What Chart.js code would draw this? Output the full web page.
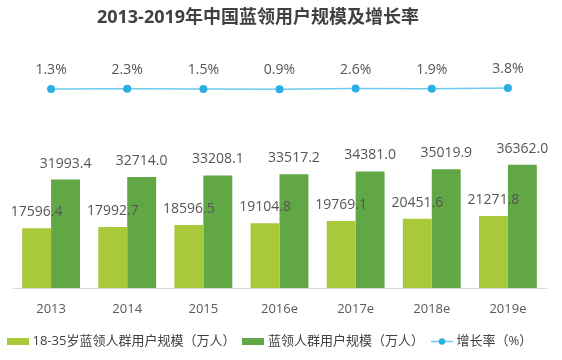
<!DOCTYPE html>
<html>
<head>
<meta charset="utf-8">
<script src="https://cdn.jsdelivr.net/npm/chart.js@4"></script>
<style>
  html,body{margin:0;padding:0;background:#fff;}
  #wrap{width:562px;height:360px;position:relative;}
</style>
</head>
<body>
<div id="wrap"><canvas id="c"></canvas></div>
<script>
// 数据
const years=['2013','2014','2015','2016e','2017e','2018e','2019e'];
const youngUsers=[17596.4,17992.7,18596.5,19104.8,19769.1,20451.6,21271.8]; // 18-35岁蓝领人群用户规模（万人）
const allUsers=[31993.4,32714.0,33208.1,33517.2,34381.0,35019.9,36362.0];   // 蓝领人群用户规模（万人）
const growth=[1.3,2.3,1.5,0.9,2.6,1.9,3.8];                                 // 增长率（%）

const TITLE='2013-2019年中国蓝领用户规模及增长率';
const FONT="'Open Sans','Noto Sans CJK SC',sans-serif";
const C_LIGHT='#a9c83a', C_DARK='#62a746', C_LINE='#6ccbee', C_DOT='#2aaee3';

// 图例标记（22px 宽的小图）
function boxMarker(col){
  const cv=document.createElement('canvas'); cv.width=22; cv.height=7;
  const g=cv.getContext('2d');
  g.fillStyle=col; g.fillRect(0,0,22,7);
  return cv;
}
function lineMarker(){
  const cv=document.createElement('canvas'); cv.width=22; cv.height=9;
  const g=cv.getContext('2d');
  g.strokeStyle=C_LINE; g.lineWidth=1.5;
  g.beginPath(); g.moveTo(0,4.5); g.lineTo(22,4.5); g.stroke();
  g.fillStyle=C_DOT; g.beginPath(); g.arc(11,4.5,3.2,0,Math.PI*2); g.fill();
  return cv;
}

const titlePlugin={
  id:'cnTitle',
  afterDraw(chart){
    const ctx=chart.ctx;
    ctx.save();
    ctx.font="bold 18px "+FONT; ctx.fillStyle='#404040';
    ctx.textAlign='center'; ctx.textBaseline='middle';
    ctx.fillText(TITLE,258,18);
    ctx.restore();
  }
};

const valuePlugin={
  id:'values',
  afterDatasetsDraw(chart){
    const ctx=chart.ctx;
    ctx.save();
    ctx.textAlign='center'; ctx.textBaseline='middle';
    ctx.font="14px "+FONT; ctx.fillStyle='#555';
    [0,1].forEach(di=>{
      const ds=chart.data.datasets[di];
      chart.getDatasetMeta(di).data.forEach((el,i)=>{
        ctx.fillText(ds.data[i].toFixed(1),el.x,el.y-16);
      });
    });
    chart.getDatasetMeta(2).data.forEach((el,i)=>{
      ctx.fillText(growth[i].toFixed(1)+'%',el.x,el.y-19);
    });
    ctx.restore();
  }
};

new Chart(document.getElementById('c'),{
  data:{
    labels:years,
    datasets:[
      {type:'bar',label:'18-35岁蓝领人群用户规模（万人）',data:youngUsers,backgroundColor:C_LIGHT,
       yAxisID:'y',categoryPercentage:0.76,barPercentage:1.0,order:2},
      {type:'bar',label:'蓝领人群用户规模（万人）',data:allUsers,backgroundColor:C_DARK,
       yAxisID:'y',categoryPercentage:0.76,barPercentage:1.0,order:2},
      {type:'line',label:'增长率（%）',data:growth,borderColor:C_LINE,borderWidth:1.5,
       pointRadius:4,pointBackgroundColor:C_DOT,pointBorderColor:C_DOT,pointBorderWidth:0,
       yAxisID:'y1',tension:0,order:1}
    ]
  },
  options:{
    responsive:true,maintainAspectRatio:false,animation:false,
    layout:{padding:{left:0,right:0,top:40,bottom:2}},
    plugins:{
      title:{display:false},
      tooltip:{enabled:false},
      legend:{
        position:'bottom',align:'start',
        labels:{
          usePointStyle:true,pointStyleWidth:16,boxHeight:7,padding:10,
          color:'#404040',font:{size:13,family:FONT},
          generateLabels(chart){
            return chart.data.datasets.map((ds,i)=>({
              text:ds.label,datasetIndex:i,hidden:false,lineWidth:0,
              fillStyle:i===2?C_DOT:ds.backgroundColor,strokeStyle:'rgba(0,0,0,0)',
              fontColor:'#404040',
              pointStyle:i===2?lineMarker():boxMarker(ds.backgroundColor)
            }));
          }
        }
      }
    },
    scales:{
      x:{
        grid:{display:false},
        border:{display:true,color:'#d9d9d9',width:1},
        ticks:{color:'#595959',font:{size:13,family:FONT},padding:5},
        afterFit(s){ s.height=37; }
      },
      y:{
        position:'left',min:0,max:73150,
        grid:{display:false},border:{display:false},ticks:{display:false},
        afterFit(s){ s.width=13; }
      },
      y1:{
        position:'right',min:-496,max:124,
        grid:{display:false},border:{display:false},ticks:{display:false},
        afterFit(s){ s.width=16; }
      }
    }
  },
  plugins:[titlePlugin,valuePlugin]
});
</script>
</body>
</html>
